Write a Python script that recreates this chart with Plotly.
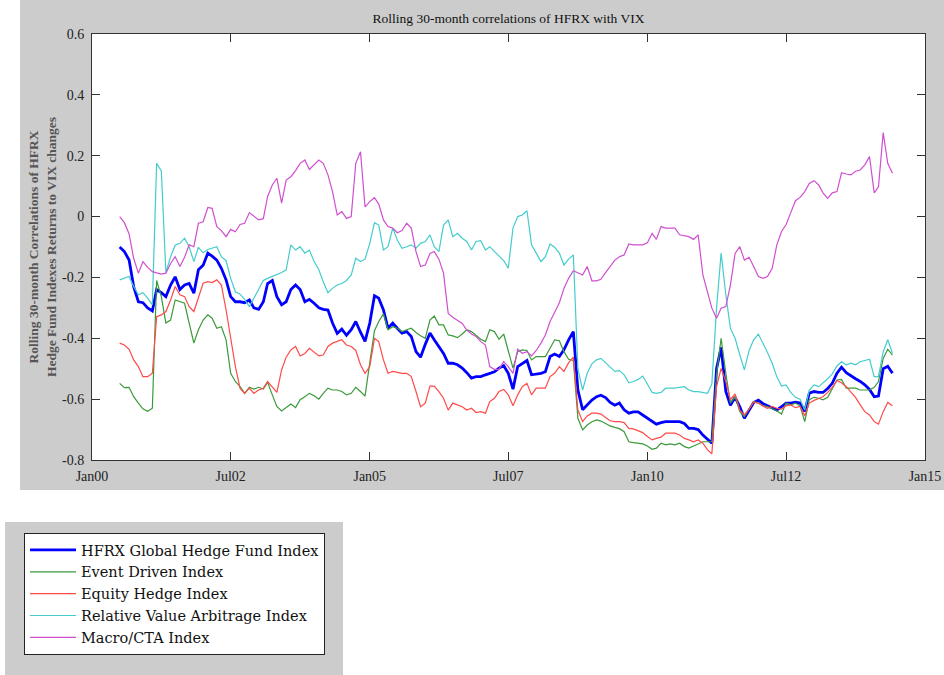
import pandas as pd
import plotly.graph_objects as go

# Monthly observation dates: Jul 2000 .. Jun 2014
dates = pd.date_range("2000-07-01", periods=168, freq="MS")

series_names = [
    "HFRX Global Hedge Fund Index",
    "Event Driven Index",
    "Equity Hedge Index",
    "Relative Value Arbitrage Index",
    "Macro/CTA Index",
]

hfrx_global = [
    -0.100, -0.115, -0.143, -0.230, -0.280, -0.283, -0.300, -0.310, -0.240, -0.250,
    -0.263, -0.225, -0.198, -0.240, -0.225, -0.220, -0.252, -0.175, -0.160, -0.120,
    -0.130, -0.143, -0.170, -0.208, -0.263, -0.280, -0.280, -0.283, -0.274, -0.300,
    -0.305, -0.280, -0.220, -0.210, -0.263, -0.290, -0.280, -0.240, -0.225, -0.240,
    -0.280, -0.272, -0.285, -0.300, -0.305, -0.307, -0.350, -0.384, -0.370, -0.390,
    -0.372, -0.345, -0.380, -0.410, -0.350, -0.260, -0.268, -0.307, -0.367, -0.350,
    -0.367, -0.383, -0.378, -0.394, -0.444, -0.462, -0.420, -0.383, -0.405, -0.430,
    -0.450, -0.482, -0.482, -0.487, -0.498, -0.513, -0.531, -0.526, -0.526, -0.520,
    -0.515, -0.510, -0.498, -0.490, -0.515, -0.567, -0.493, -0.482, -0.473, -0.520,
    -0.518, -0.515, -0.510, -0.460, -0.452, -0.460, -0.438, -0.405, -0.378, -0.570,
    -0.635, -0.620, -0.603, -0.592, -0.587, -0.595, -0.611, -0.620, -0.613, -0.635,
    -0.646, -0.642, -0.642, -0.652, -0.663, -0.674, -0.682, -0.677, -0.674, -0.674,
    -0.674, -0.674, -0.680, -0.696, -0.696, -0.700, -0.718, -0.734, -0.745, -0.500,
    -0.430, -0.575, -0.620, -0.594, -0.625, -0.663, -0.635, -0.611, -0.603, -0.615,
    -0.622, -0.630, -0.636, -0.625, -0.613, -0.613, -0.610, -0.613, -0.640, -0.580,
    -0.575, -0.578, -0.578, -0.565, -0.548, -0.515, -0.495, -0.513, -0.524, -0.533,
    -0.542, -0.553, -0.568, -0.592, -0.590, -0.500, -0.492, -0.515,
]

event_driven = [
    -0.548, -0.562, -0.561, -0.592, -0.613, -0.632, -0.640, -0.630, -0.210, -0.263,
    -0.350, -0.340, -0.274, -0.280, -0.285, -0.350, -0.416, -0.372, -0.340, -0.323,
    -0.334, -0.367, -0.362, -0.405, -0.515, -0.542, -0.559, -0.581, -0.561, -0.567,
    -0.561, -0.567, -0.545, -0.586, -0.624, -0.639, -0.628, -0.616, -0.628, -0.602,
    -0.592, -0.581, -0.589, -0.600, -0.581, -0.564, -0.570, -0.570, -0.575, -0.586,
    -0.581, -0.561, -0.575, -0.590, -0.480, -0.375, -0.345, -0.320, -0.372, -0.362,
    -0.367, -0.378, -0.372, -0.367, -0.381, -0.392, -0.400, -0.340, -0.327, -0.356,
    -0.356, -0.389, -0.392, -0.398, -0.386, -0.372, -0.378, -0.389, -0.403, -0.411,
    -0.372, -0.378, -0.403, -0.386, -0.438, -0.498, -0.444, -0.438, -0.440, -0.471,
    -0.460, -0.460, -0.460, -0.433, -0.405, -0.408, -0.444, -0.469, -0.473, -0.663,
    -0.701, -0.685, -0.674, -0.668, -0.672, -0.680, -0.688, -0.693, -0.697, -0.707,
    -0.740, -0.743, -0.745, -0.747, -0.754, -0.765, -0.761, -0.745, -0.750, -0.747,
    -0.750, -0.745, -0.756, -0.761, -0.754, -0.747, -0.740, -0.740, -0.740, -0.520,
    -0.400, -0.515, -0.613, -0.592, -0.641, -0.657, -0.630, -0.608, -0.613, -0.621,
    -0.624, -0.630, -0.638, -0.649, -0.613, -0.619, -0.613, -0.622, -0.674, -0.602,
    -0.594, -0.597, -0.602, -0.594, -0.567, -0.537, -0.535, -0.564, -0.564, -0.564,
    -0.570, -0.570, -0.570, -0.561, -0.542, -0.466, -0.436, -0.455,
]

equity_hedge = [
    -0.416, -0.422, -0.436, -0.471, -0.493, -0.526, -0.526, -0.515, -0.329, -0.323,
    -0.312, -0.274, -0.230, -0.257, -0.263, -0.296, -0.312, -0.263, -0.219, -0.214,
    -0.217, -0.208, -0.225, -0.307, -0.405, -0.493, -0.565, -0.581, -0.564, -0.581,
    -0.570, -0.564, -0.542, -0.559, -0.578, -0.504, -0.462, -0.438, -0.427, -0.458,
    -0.450, -0.433, -0.444, -0.458, -0.455, -0.427, -0.416, -0.411, -0.405, -0.422,
    -0.427, -0.440, -0.487, -0.515, -0.493, -0.400, -0.411, -0.471, -0.515, -0.509,
    -0.513, -0.515, -0.515, -0.526, -0.575, -0.625, -0.613, -0.557, -0.557, -0.575,
    -0.597, -0.636, -0.613, -0.619, -0.625, -0.636, -0.630, -0.644, -0.641, -0.646,
    -0.608, -0.597, -0.575, -0.568, -0.586, -0.622, -0.586, -0.559, -0.548, -0.586,
    -0.564, -0.564, -0.564, -0.526, -0.515, -0.493, -0.509, -0.480, -0.462, -0.636,
    -0.674, -0.655, -0.646, -0.646, -0.649, -0.660, -0.671, -0.674, -0.674, -0.677,
    -0.696, -0.698, -0.703, -0.710, -0.723, -0.734, -0.729, -0.725, -0.712, -0.712,
    -0.712, -0.718, -0.729, -0.734, -0.740, -0.734, -0.745, -0.767, -0.780, -0.559,
    -0.499, -0.542, -0.602, -0.583, -0.636, -0.652, -0.633, -0.609, -0.613, -0.623,
    -0.630, -0.624, -0.630, -0.633, -0.622, -0.619, -0.628, -0.624, -0.655, -0.613,
    -0.604, -0.598, -0.592, -0.578, -0.561, -0.539, -0.546, -0.559, -0.575, -0.594,
    -0.619, -0.641, -0.652, -0.674, -0.682, -0.641, -0.611, -0.622,
]

relative_value = [
    -0.208, -0.203, -0.197, -0.230, -0.257, -0.250, -0.268, -0.290, 0.175, 0.150,
    -0.184, -0.132, -0.094, -0.088, -0.071, -0.099, -0.148, -0.101, -0.119, -0.108,
    -0.104, -0.099, -0.132, -0.145, -0.203, -0.247, -0.255, -0.272, -0.296, -0.268,
    -0.236, -0.210, -0.203, -0.197, -0.189, -0.184, -0.175, -0.093, -0.110, -0.099,
    -0.120, -0.110, -0.148, -0.175, -0.214, -0.250, -0.236, -0.225, -0.220, -0.210,
    -0.192, -0.137, -0.148, -0.140, -0.088, -0.020, -0.028, -0.110, -0.099, -0.038,
    -0.077, -0.104, -0.099, -0.093, -0.104, -0.088, -0.082, -0.060, -0.099, -0.115,
    -0.028, -0.011, -0.066, -0.055, -0.071, -0.082, -0.110, -0.082, -0.079, -0.110,
    -0.099, -0.115, -0.132, -0.145, -0.170, -0.038, 0.000, 0.005, 0.019, -0.093,
    -0.120, -0.148, -0.132, -0.090, -0.101, -0.120, -0.159, -0.140, -0.126, -0.500,
    -0.570, -0.515, -0.484, -0.471, -0.466, -0.480, -0.495, -0.509, -0.506, -0.520,
    -0.546, -0.542, -0.535, -0.524, -0.550, -0.578, -0.581, -0.578, -0.564, -0.564,
    -0.564, -0.561, -0.559, -0.570, -0.575, -0.575, -0.578, -0.581, -0.550, -0.300,
    -0.120, -0.257, -0.367, -0.400, -0.455, -0.504, -0.440, -0.405, -0.386, -0.416,
    -0.447, -0.482, -0.526, -0.557, -0.553, -0.578, -0.594, -0.600, -0.636, -0.570,
    -0.553, -0.559, -0.548, -0.533, -0.517, -0.491, -0.477, -0.487, -0.482, -0.487,
    -0.477, -0.473, -0.469, -0.526, -0.526, -0.444, -0.405, -0.449,
]

macro_cta = [
    0.000, -0.020, -0.057, -0.137, -0.186, -0.148, -0.167, -0.181, -0.185, -0.189,
    -0.186, -0.154, -0.132, -0.164, -0.134, -0.093, -0.099, -0.022, -0.017, 0.030,
    0.027, -0.033, -0.046, -0.066, -0.042, -0.050, -0.026, -0.022, 0.013, 0.002,
    -0.011, -0.007, 0.066, 0.104, 0.126, 0.044, 0.120, 0.131, 0.151, 0.175,
    0.186, 0.155, 0.170, 0.186, 0.175, 0.137, 0.082, 0.005, 0.016, -0.006,
    0.000, 0.175, 0.213, 0.032, 0.049, 0.062, 0.041, -0.011, -0.033, -0.038,
    -0.053, -0.046, -0.022, -0.038, -0.115, -0.164, -0.159, -0.121, -0.115, -0.140,
    -0.186, -0.318, -0.331, -0.340, -0.351, -0.373, -0.386, -0.394, -0.411, -0.422,
    -0.493, -0.502, -0.502, -0.476, -0.493, -0.515, -0.436, -0.449, -0.444, -0.458,
    -0.440, -0.416, -0.389, -0.345, -0.312, -0.283, -0.236, -0.203, -0.178, -0.186,
    -0.192, -0.164, -0.211, -0.211, -0.206, -0.184, -0.162, -0.143, -0.132, -0.126,
    -0.090, -0.093, -0.093, -0.093, -0.086, -0.055, -0.075, -0.033, -0.038, -0.038,
    -0.038, -0.060, -0.063, -0.066, -0.075, -0.060, -0.192, -0.247, -0.301, -0.334,
    -0.301, -0.296, -0.225, -0.121, -0.099, -0.143, -0.134, -0.164, -0.197, -0.203,
    -0.197, -0.170, -0.094, -0.049, -0.027, 0.013, 0.052, 0.063, 0.082, 0.109,
    0.118, 0.104, 0.078, 0.060, 0.078, 0.082, 0.144, 0.140, 0.137, 0.149,
    0.153, 0.170, 0.197, 0.078, 0.098, 0.276, 0.175, 0.142,
]

x_tick_dates = ["2000-01-01", "2002-07-01", "2005-01-01", "2007-07-01",
                "2010-01-01", "2012-07-01", "2015-01-01"]
x_tick_labels = ["Jan00", "Jul02", "Jan05", "Jul07", "Jan10", "Jul12", "Jan15"]
y_tick_vals = [-0.8, -0.6, -0.4, -0.2, 0, 0.2, 0.4, 0.6]
y_tick_labels = ["-0.8", "-0.6", "-0.4", "-0.2", "0", "0.2", "0.4", "0.6"]

all_series = [hfrx_global, event_driven, equity_hedge, relative_value, macro_cta]
colors = ["#0000ff", "#3a9a3a", "#ff4a4a", "#44cccc", "#d04fd0"]
widths = [2.8, 1.2, 1.2, 1.2, 1.2]

fig = go.Figure()
for name, vals, col, w in zip(series_names, all_series, colors, widths):
    fig.add_trace(go.Scatter(x=dates, y=vals, mode="lines", name=name,
                             line=dict(color=col, width=w)))

# geometry of the page (pixels)
W, H = 944, 675
L, R, T, B = 92, 19, 34, 215
pw, ph = W - L - R, H - T - B


def px_x(p):
    return (p - L) / pw


def px_y(p):
    return (H - B - p) / ph


gray = "#cccccc"
shapes = [
    dict(type="rect", xref="paper", yref="paper", layer="below",
         x0=px_x(20), x1=px_x(944), y0=px_y(490), y1=px_y(0),
         fillcolor=gray, line=dict(width=0)),
    dict(type="rect", xref="paper", yref="paper", layer="below",
         x0=px_x(5), x1=px_x(343), y0=px_y(675), y1=px_y(522),
         fillcolor=gray, line=dict(width=0)),
    dict(type="rect", xref="paper", yref="paper", layer="below",
         x0=0, x1=1, y0=0, y1=1, fillcolor="white", line=dict(width=0)),
]

serif = "Liberation Serif"
fig.update_layout(
    width=W, height=H, autosize=False,
    margin=dict(l=L, r=R, t=T, b=B, pad=0, autoexpand=False),
    paper_bgcolor="white", plot_bgcolor="white",
    shapes=shapes,
    title=dict(text="Rolling 30-month correlations of HFRX with VIX",
               x=px_x(508.5), xref="paper", xanchor="center",
               y=1 - 18 / H, yref="container", yanchor="middle",
               font=dict(family=serif, size=13.5, color="#111")),
    showlegend=True,
    legend=dict(x=px_x(24), y=px_y(533), xanchor="left", yanchor="top",
                bgcolor="white", bordercolor="#222", borderwidth=1,
                font=dict(family="DejaVu Serif", size=14.5, color="#111"),
                itemwidth=46, tracegroupgap=0),
    xaxis=dict(type="date", range=["2000-01-01", "2015-01-01"],
               tickmode="array", tickvals=x_tick_dates, ticktext=x_tick_labels,
               ticks="inside", ticklen=8, tickcolor="#333",
               showline=True, linecolor="#333", linewidth=1, mirror="ticks",
               showgrid=False, zeroline=False, ticklabelstandoff=3,
               automargin=False,
               tickfont=dict(family=serif, size=14, color="#222")),
    yaxis=dict(range=[-0.8, 0.6], tickmode="array", tickvals=y_tick_vals,
               ticktext=y_tick_labels,
               ticks="inside", ticklen=8, tickcolor="#333",
               showline=True, linecolor="#333", linewidth=1, mirror="ticks",
               showgrid=False, zeroline=False, ticklabelstandoff=4,
               automargin=False,
               tickfont=dict(family=serif, size=14, color="#222"),
               title=dict(text="<b>Rolling 30-month Correlations of HFRX<br>Hedge Fund Indexes Returns to VIX changes</b>",
                          font=dict(family=serif, size=13.5, color="#555"),
                          standoff=2)),
)

fig.write_html("out.html", config={"displayModeBar": False},
               post_script="document.body.style.margin='0';document.body.style.overflow='hidden';")
